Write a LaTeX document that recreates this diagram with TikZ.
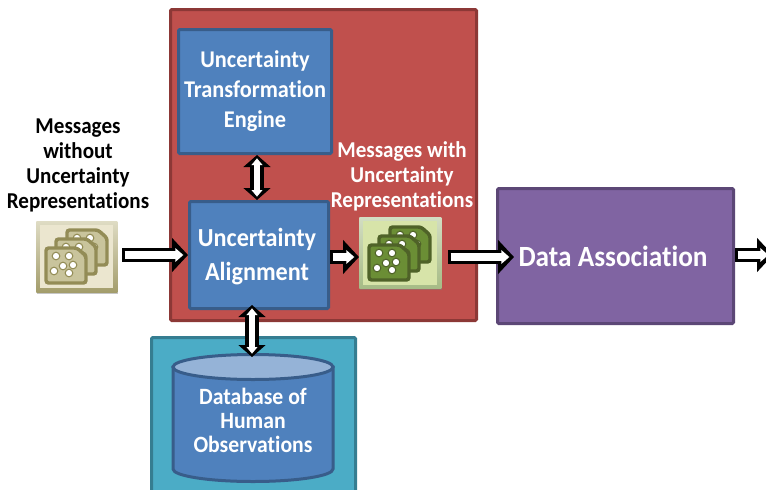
\documentclass[tikz,border=0pt]{standalone}
\usepackage{fontspec}
\setmainfont[FakeStretch=0.93,Ligatures=NoCommon]{Carlito}
\usetikzlibrary{arrows.meta,shadows}

\definecolor{redfill}{HTML}{C0504D}
\definecolor{redline}{HTML}{8C3836}
\definecolor{bluefill}{HTML}{4F81BD}
\definecolor{blueline}{HTML}{385D8A}
\definecolor{bluetop}{HTML}{95B3D7}
\definecolor{tealfill}{HTML}{4BACC6}
\definecolor{tealline}{HTML}{357D91}
\definecolor{purplefill}{HTML}{8064A2}
\definecolor{purpleline}{HTML}{5C4776}
\definecolor{tanfill}{HTML}{C9C49C}
\definecolor{tanline}{HTML}{938C56}
\definecolor{greenfill}{HTML}{6B8E35}
\definecolor{greenline}{HTML}{4F6228}

\tikzset{
  panel/.style={draw=#1line,fill=#1fill,line width=2.25pt,rounded corners=1pt,anchor=north west,inner sep=0pt},
  whitelabel/.style={text=white,align=center,inner sep=0.75pt},
  blacklabel/.style={text=black,align=center,inner sep=0.75pt},
  blockarrow/.style={line width=11pt,draw=black,-{Triangle[length=12pt,width=25pt]},
    postaction={draw=white,line width=6pt,shorten <=2pt,shorten >=3.5pt,-{Triangle[length=6pt,width=10pt]}}},
  blockboth/.style={line width=10pt,draw=black,{Triangle[length=9pt,width=20pt]}-{Triangle[length=9pt,width=20pt]},
    postaction={draw=white,line width=5pt,shorten <=2.5pt,shorten >=2.5pt,{Triangle[length=5pt,width=8pt]}-{Triangle[length=5pt,width=8pt]}}},
  iconbox/.style={anchor=north west,inner sep=0pt,drop shadow={shadow xshift=0.8pt,shadow yshift=-1.5pt,opacity=0.45}},
  pics/msgsheet/.style 2 args={code={
    \draw [fill=#1,draw=#2,line width=2.6pt,rounded corners=2pt] (0,0) -- (31,0) -- (40,-8) -- (40,-35) -- (0,-35) -- cycle;
    \foreach \cx/\cy in {10/8,23/8,17/18,27/17,8/23,23/25}
      \draw [fill=white,draw=#2,line width=0.8pt] (\cx,-\cy) circle (3.8);
  }},
}

\begin{document}
\begin{tikzpicture}[x=0.75pt,y=0.75pt,yscale=-1,xscale=1]
\useasboundingbox (0,0) rectangle (766,489);

% Panels
\node (redpanel) [panel=red,minimum width=229.5pt,minimum height=233.25pt] at (169,8) {};
\node (tealpanel) [panel=teal,minimum width=153pt,minimum height=125pt] at (150,336) {};
\node (engine) [panel=blue,minimum width=114.75pt,minimum height=93pt] at (177,28) {};
\node (align) [panel=blue,minimum width=104.25pt,minimum height=80.25pt] at (188,200) {};
\node (assoc) [panel=purple,minimum width=177pt,minimum height=101.25pt] at (496,187) {};

% Database
\fill [bluefill,draw=blueline,line width=2.25pt] (173,367) -- (173,469) arc [start angle=180,end angle=360,x radius=80,y radius=-12.5] -- (333,367) -- cycle;
\draw [fill=bluetop,draw=blueline,line width=2.25pt] (253,367) ellipse [x radius=80,y radius=12.5];

% Message icons
\node (msgplain) [iconbox,minimum width=60.75pt,minimum height=53.25pt,top color=white!40!tanfill,bottom color=tanline!70!tanfill] at (36,221) {};
\fill [color={rgb, 255:red, 235; green, 230; blue, 207}] (40,225) rectangle (113,288);
\path (67,230) pic {msgsheet={tanfill}{tanline}};
\path (56,239) pic {msgsheet={tanfill}{tanline}};
\path (46,248) pic {msgsheet={tanfill}{tanline}};

\node (msgfull) [iconbox,minimum width=61.5pt,minimum height=53.25pt,top color=white!70!greenfill,bottom color=greenfill!60!white] at (359,217) {};
\fill [color={rgb, 255:red, 215; green, 228; blue, 169}] (363,221) rectangle (437,285);
\path (390,227) pic {msgsheet={greenfill}{greenline}};
\path (379,236) pic {msgsheet={greenfill}{greenline}};
\path (369,245) pic {msgsheet={greenfill}{greenline}};

% Arrows
\coordinate (exit) at (773,255);
\coordinate (dbtop) at (252,357);
\coordinate (assocentry) at (514,257);
\draw [blockarrow] (122,255) -- (align.west |- 0,255);
\draw [blockarrow] (align.east |- 0,257) -- (msgfull.west |- 0,257);
\draw [blockarrow] (448,257) -- (assocentry);
\draw [blockarrow] (assoc.east |- exit) -- (exit);
\draw [blockboth] (engine.south -| 257,0) -- (align.north -| 257,0);
\draw [blockboth] (252,305) -- (dbtop);

% Text Node
\node (enginetext) [whitelabel,font=\bfseries\fontsize{18}{22.5}\selectfont] at (255,91) {Uncertainty\\Transformation\\Engine};
\node (aligntext) [whitelabel,font=\bfseries\fontsize{19.5}{25.5}\selectfont] at (257,257) {Uncertainty\\Alignment};
\node (assoctext) [whitelabel,font=\bfseries\fontsize{22}{26}\selectfont] at (613,256) {Data Association};
\node (dbtext) [whitelabel,font=\bfseries\fontsize{17.5}{18}\selectfont] at (253,420) {Database of\\Human\\Observations};
\node (plaintext) [blacklabel,font=\bfseries\fontsize{17}{18.75}\selectfont] at (78,165) {Messages\\without\\Uncertainty\\Representations};
\node (fulltext) [whitelabel,font=\bfseries\fontsize{17}{18.75}\selectfont] at (402,176) {Messages with\\Uncertainty\\Representations};

\end{tikzpicture}
\end{document}
